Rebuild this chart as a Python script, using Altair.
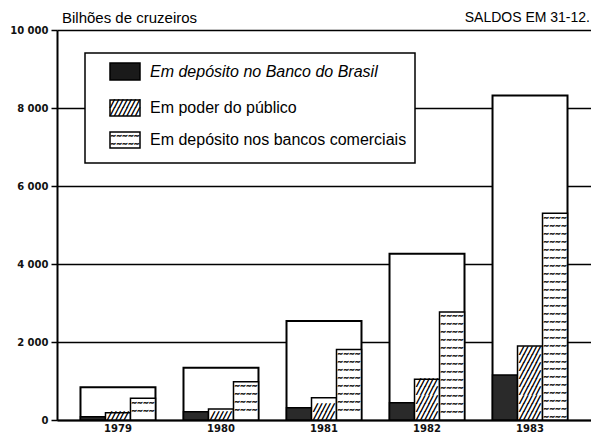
import altair as alt
import pandas as pd

years = ["1979", "1980", "1981", "1982", "1983"]
totals = [840, 1340, 2540, 4260, 8320]
banco_brasil = [85, 210, 315, 445, 1155]
publico = [185, 280, 570, 1045, 1900]
comerciais = [555, 980, 1810, 2770, 5300]
series = ["Em depósito no Banco do Brasil", "Em poder do público",
          "Em depósito nos bancos comerciais"]
y_ticks = [0, 2000, 4000, 6000, 8000, 10000]
unit_label = "Bilhões de cruzeiros"
date_label = "SALDOS EM 31-12."

tot_df = pd.DataFrame({"ano": years, "total": totals})
rows = []
for i, a in enumerate(years):
    for s, vals in zip(series, [banco_brasil, publico, comerciais]):
        rows.append({"ano": a, "serie": s, "valor": vals[i]})
comp_df = pd.DataFrame(rows)
one = pd.DataFrame({"k": [0]})

HATCH = "\u2571" * 5
WAVE = "~" * 4

x_scale = alt.Scale(domain=years, paddingInner=0.272, paddingOuter=0.228)
off_scale = alt.Scale(domain=series, paddingInner=0, paddingOuter=0)
y_scale = alt.Scale(domain=[0, 10000], nice=False, zero=True)

x_enc = alt.X("ano:N", scale=x_scale, title=None,
              axis=alt.Axis(labelAngle=0, ticks=False, domainColor="black",
                            domainWidth=2, labelFontSize=10, labelFont="DejaVu Sans",
                            labelFontWeight="bold", labelColor="#111", labelPadding=3,
                            grid=False))

base = alt.Chart(tot_df).mark_bar(fill="white", stroke="black", strokeWidth=2).encode(
    x=x_enc,
    y=alt.Y("total:Q", scale=y_scale, title=None,
            axis=alt.Axis(values=y_ticks, grid=True, gridColor="black", gridWidth=1.5,
                          gridOpacity=1, domainColor="black", domainWidth=2,
                          tickColor="black", tickSize=6, tickWidth=1.5,
                          labelExpr="replace(format(datum.value, ','), ',', ' ')",
                          labelFontSize=10, labelFont="DejaVu Sans",
                          labelFontWeight="bold", labelColor="#111", labelPadding=3)),
)

parts = alt.Chart(comp_df).mark_bar(stroke="black", strokeWidth=1.5).encode(
    x=alt.X("ano:N", scale=x_scale),
    xOffset=alt.XOffset("serie:N", scale=off_scale),
    y=alt.Y("valor:Q", scale=y_scale),
    fill=alt.Fill("serie:N", scale=alt.Scale(domain=series,
                                             range=["#2a2a2a", "white", "white"]),
                  legend=None),
)

hatch = alt.Chart(comp_df).transform_filter(
    alt.datum.serie == series[1]
).transform_calculate(
    lv="sequence(104, datum.valor - 60, 209)"
).transform_flatten(["lv"]).mark_text(
    text=HATCH, font="DejaVu Sans Mono", fontSize=7, baseline="middle", color="black",
    stroke="black", strokeWidth=0.6
).encode(
    x=alt.X("ano:N", scale=x_scale),
    xOffset=alt.XOffset("serie:N", scale=off_scale),
    y=alt.Y("lv:Q", scale=y_scale),
)

wave = alt.Chart(comp_df).transform_filter(
    alt.datum.serie == series[2]
).transform_calculate(
    lv="sequence(datum.valor - 110, 60, -205)"
).transform_flatten(["lv"]).mark_text(
    text=WAVE, font="DejaVu Sans", fontWeight="bold", fontSize=7, baseline="middle",
    color="black", stroke="black", strokeWidth=0.5
).encode(
    x=alt.X("ano:N", scale=x_scale),
    xOffset=alt.XOffset("serie:N", scale=off_scale),
    y=alt.Y("lv:Q", scale=y_scale),
)

# legend (custom, drawn as marks)
legend_layers = [
    alt.Chart(one).mark_rect(fill="white", stroke="black", strokeWidth=1.5).encode(
        x=alt.value(28), x2=alt.value(358), y=alt.value(23), y2=alt.value(133))
]
sw_y = [(33, 50), (70, 86), (102, 118)]
sw_fill = ["#1a1a1a", "white", "white"]
for (y0, y1), f in zip(sw_y, sw_fill):
    legend_layers.append(
        alt.Chart(one).mark_rect(fill=f, stroke="black", strokeWidth=1.5).encode(
            x=alt.value(53), x2=alt.value(83), y=alt.value(y0), y2=alt.value(y1)))
for yy in [74, 82]:
    legend_layers.append(
        alt.Chart(one).mark_text(text="\u2571" * 7, font="DejaVu Sans Mono", fontSize=7,
                                 baseline="middle", color="black", stroke="black",
                                 strokeWidth=0.6).encode(
            x=alt.value(68), y=alt.value(yy)))
for yy in [106, 114]:
    legend_layers.append(
        alt.Chart(one).mark_text(text="~" * 5, font="DejaVu Sans", fontWeight="bold",
                                 fontSize=7, baseline="middle", color="black",
                                 stroke="black", strokeWidth=0.5).encode(
            x=alt.value(68), y=alt.value(yy)))
for s, yy, style in zip(series, [42, 78, 110], ["italic", "normal", "normal"]):
    legend_layers.append(
        alt.Chart(one).mark_text(text=s, font="Liberation Sans", fontSize=16,
                                 fontStyle=style, align="left", baseline="middle",
                                 color="black").encode(
            x=alt.value(93), y=alt.value(yy)))

header = [
    alt.Chart(one).mark_text(text=unit_label, font="Liberation Sans", fontSize=15,
                             align="left", baseline="middle", color="black").encode(
        x=alt.value(5), y=alt.value(-12)),
    alt.Chart(one).mark_text(text=date_label, font="Liberation Sans", fontSize=14,
                             align="right", baseline="middle", color="black").encode(
        x=alt.value(533), y=alt.value(-12)),
]

chart = alt.layer(base, parts, hatch, wave, *legend_layers, *header).properties(
    width=534, height=390,
    padding={"left": 49, "top": 22, "right": 0, "bottom": 13},
    autosize="none",
    background="white",
).configure_view(strokeWidth=0)

chart.save("out.html", embed_options={"renderer": "svg", "actions": False})
